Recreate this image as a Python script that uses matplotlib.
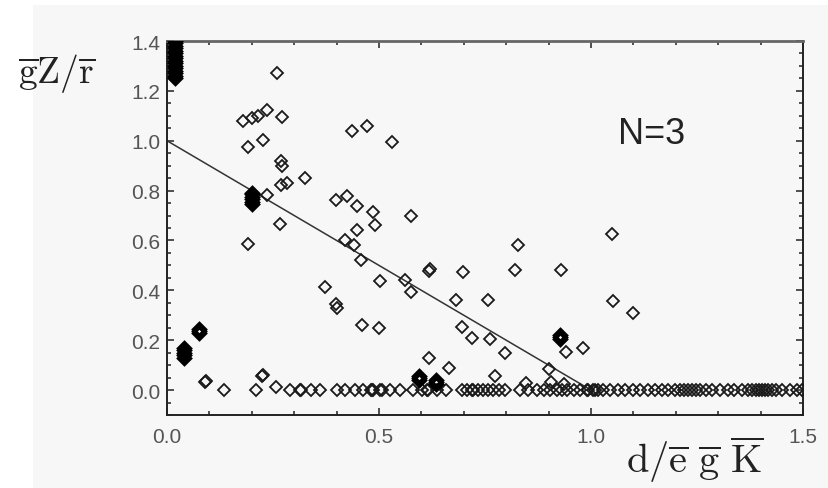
import matplotlib
matplotlib.use('Agg')
import matplotlib.pyplot as plt
from matplotlib.patches import Rectangle
from matplotlib.ticker import MultipleLocator

plt.rcParams['mathtext.fontset'] = 'cm'

# isolated points (x, y)
scatter_x = [0.26, 0.18, 0.20, 0.215, 0.235, 0.272, 0.226, 0.19, 0.27, 0.272,
             0.268, 0.284, 0.325, 0.235, 0.398, 0.424, 0.448, 0.487, 0.436, 0.472,
             0.53, 0.575, 0.267, 0.192, 0.447, 0.49, 0.42, 0.44, 0.457, 0.502,
             0.373, 0.399, 0.40, 0.46, 0.50, 0.09, 0.092, 0.225, 0.227, 0.256,
             0.829, 0.619, 0.621, 0.697, 0.821, 0.929, 0.561, 0.575, 0.681, 0.758,
             0.695, 0.719, 0.762, 0.796, 0.94, 0.98, 0.619, 0.664, 0.774, 0.902,
             0.846, 0.906, 0.937, 1.05, 1.053, 1.10]
scatter_y = [1.27, 1.08, 1.09, 1.10, 1.125, 1.096, 1.004, 0.975, 0.92, 0.90,
             0.823, 0.83, 0.851, 0.784, 0.763, 0.78, 0.738, 0.716, 1.039, 1.059,
             0.993, 0.70, 0.667, 0.586, 0.643, 0.664, 0.60, 0.58, 0.52, 0.439,
             0.415, 0.345, 0.33, 0.26, 0.249, 0.033, 0.038, 0.055, 0.06, 0.011,
             0.58, 0.479, 0.484, 0.475, 0.482, 0.483, 0.443, 0.392, 0.363, 0.361,
             0.254, 0.209, 0.205, 0.149, 0.151, 0.167, 0.127, 0.087, 0.057, 0.084,
             0.028, 0.033, 0.024, 0.627, 0.356, 0.308]

# dense clusters that render as solid blobs
cluster_x = [0.02] * 16 + [0.04] * 5 + [0.076] * 3 + [0.20] * 6 \
    + [0.927] * 3 + [0.595] * 3 + [0.634] * 3
cluster_y = [1.25, 1.26, 1.27, 1.28, 1.29, 1.30, 1.31, 1.32, 1.33, 1.34,
             1.35, 1.36, 1.37, 1.38, 1.39, 1.40,
             0.13, 0.14, 0.15, 0.16, 0.17,
             0.228, 0.236, 0.244,
             0.745, 0.755, 0.765, 0.775, 0.785, 0.79,
             0.206, 0.214, 0.222,
             0.04, 0.047, 0.055,
             0.025, 0.033, 0.04]

# points sitting on zero
zero_x = [0.134, 0.209, 0.29, 0.314, 0.316, 0.339, 0.362, 0.40, 0.42, 0.443,
          0.463, 0.48, 0.483, 0.486, 0.502, 0.506, 0.526, 0.55, 0.581, 0.601,
          0.613, 0.616, 0.636, 0.659, 0.695, 0.707, 0.719, 0.722, 0.734, 0.746,
          0.758, 0.77, 0.782, 0.797, 0.832, 0.852, 0.872, 0.888, 0.903, 0.919,
          0.931, 0.943, 0.959, 0.974, 0.99, 0.993, 1.005, 1.009, 1.017, 1.028,
          1.045, 1.064, 1.08, 1.099, 1.116, 1.134, 1.151, 1.167, 1.182, 1.198,
          1.21, 1.219, 1.229, 1.238, 1.248, 1.257, 1.271, 1.285, 1.304, 1.323,
          1.337, 1.356, 1.37, 1.38, 1.389, 1.396, 1.403, 1.41, 1.417, 1.427,
          1.436, 1.45, 1.469, 1.486, 1.498]

line_x = [0.0, 1.0]
line_y = [1.0, 0.0]

bg = '#f7f7f7'

fig = plt.figure(figsize=(8.29, 4.89), dpi=100, facecolor='white')
fig.patches.append(Rectangle((33 / 829, 0), 1, 1 - 6 / 489, transform=fig.transFigure,
                             facecolor=bg, edgecolor='none', zorder=-10))
ax = fig.add_axes([167 / 829, 1 - 416 / 489, 636 / 829, 374 / 489])
ax.set_facecolor(bg)

ax.plot(line_x, line_y, color='#333333', lw=1.1, zorder=2)

mk = dict(marker='D', markersize=5.8, markerfacecolor='none',
          markeredgecolor='#1a1a1a', markeredgewidth=1.3, linestyle='none', zorder=3)
ax.plot(scatter_x, scatter_y, **mk)
ax.plot(zero_x, [0.0] * len(zero_x), **mk)
mk_dense = dict(mk, markeredgewidth=2.4, markeredgecolor='#000000')
ax.plot(cluster_x, cluster_y, **mk_dense)

ax.set_xlim(0, 1.5)
ax.set_ylim(-0.1, 1.4)

ax.xaxis.set_major_locator(MultipleLocator(0.5))
ax.xaxis.set_minor_locator(MultipleLocator(0.1))
ax.yaxis.set_major_locator(MultipleLocator(0.2))
ax.yaxis.set_minor_locator(MultipleLocator(0.05))
ax.tick_params(which='both', direction='in', top=True, right=True,
               color='#222222', width=1.1)
ax.tick_params(which='major', length=5)
ax.tick_params(which='minor', length=2.8)
ax.tick_params(axis='x', which='major', pad=9)
ax.tick_params(axis='y', which='major', pad=5)
ax.xaxis.set_major_formatter(plt.FormatStrFormatter('%.1f'))
ax.yaxis.set_major_formatter(plt.FormatStrFormatter('%.1f'))
for lab in ax.get_xticklabels() + ax.get_yticklabels():
    lab.set_fontfamily('Liberation Sans')
    lab.set_fontsize(15)
    lab.set_color('#555555')

for side in ['left', 'right', 'bottom']:
    ax.spines[side].set_linewidth(1.4)
    ax.spines[side].set_color('#222222')
ax.spines['top'].set_linewidth(2)
ax.spines['top'].set_color('#666666')

ax.text(1.142, 1.028, 'N=3', fontsize=26, family='Liberation Sans',
        color='#222222', ha='center', va='center')

fig.text(57 / 829, 1 - 74 / 489, r'$\overline{\mathrm{g}}\mathrm{Z}/\overline{\mathrm{r}}$',
         fontsize=27, ha='center', va='center', color='#222222')
fig.text(695 / 829, 1 - 460 / 489,
         r'$\mathrm{d}/\overline{\mathrm{e}}\ \overline{\mathrm{g}}\ \overline{\mathrm{K}}$',
         fontsize=29, ha='center', va='center', color='#222222')

fig.savefig('out.png', dpi=100, facecolor=fig.get_facecolor())
